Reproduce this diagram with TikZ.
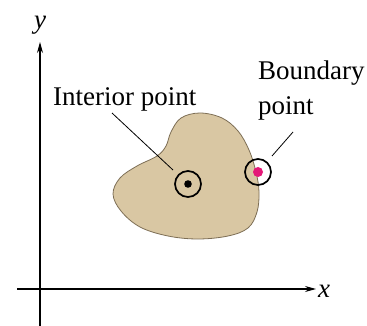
\documentclass[tikz,border=0pt]{standalone}
\usepackage{fontspec}
\setmainfont{Liberation Serif}
\usetikzlibrary{arrows.meta}
\definecolor{blobfill}{RGB}{217,199,163}
\definecolor{blobline}{RGB}{125,110,85}
\definecolor{bpink}{RGB}{228,25,120}
\tikzset{
  axis/.style={line width=1.2pt,-{Stealth[length=11pt,width=6pt]}},
  lbl/.style={font=\fontsize{27}{35}\selectfont,inner sep=0pt,anchor=base west},
  leader/.style={line width=0.8pt},
  ring/.style={circle,draw,line width=1.7pt,minimum size=26pt,inner sep=0pt},
}
\begin{document}
\begin{tikzpicture}[x=1pt,y=-1pt]
\useasboundingbox (0,0) rectangle (367,326);
% axes
\coordinate (ybot) at (40,326);
\coordinate (ytop) at (40,42);
\coordinate (xleft) at (17,289);
\coordinate (xright) at (316,289);
\draw[axis] (ybot) -- (ytop);
\draw[axis] (xleft) -- (xright);
\node[lbl,anchor=base,font=\fontsize{27}{30}\selectfont\itshape] (ylab) at (40,29) {y};
\node[lbl,font=\fontsize{27}{30}\selectfont\itshape] (xlab) at (318,297) {x};
% region
\draw[fill=blobfill,draw=blobline,line width=0.8pt] plot[smooth cycle,tension=0.6] coordinates {
(200,113) (222,118) (238,131) (249,150) (256,172) (259,192) (257,212) (248,228) (228,236) (198,239) (168,236) (140,227) (121,211) (113,194) (120,178) (137,166) (157,156) (166,146) (171,132) (181,118)};
% interior point
\node[ring] (iring) at (188,184) {};
\fill (iring.center) circle (3.8pt);
% boundary point
\node[ring] (bring) at (258,172) {};
\fill[bpink] (bring.center) circle (5pt);
% labels
\node[lbl] (ilab) at (53,106) {Interior point};
\node[lbl] (blab1) at (258,80) {Boundary};
\node[lbl] (blab2) at (258,115) {point};
\coordinate (il1) at (112,113);
\coordinate (il2) at (173,170);
\coordinate (bl1) at (293,132);
\coordinate (bl2) at (272,156);
\draw[leader] (il1) -- (il2);
\draw[leader] (bl1) -- (bl2);
\end{tikzpicture}
\end{document}
